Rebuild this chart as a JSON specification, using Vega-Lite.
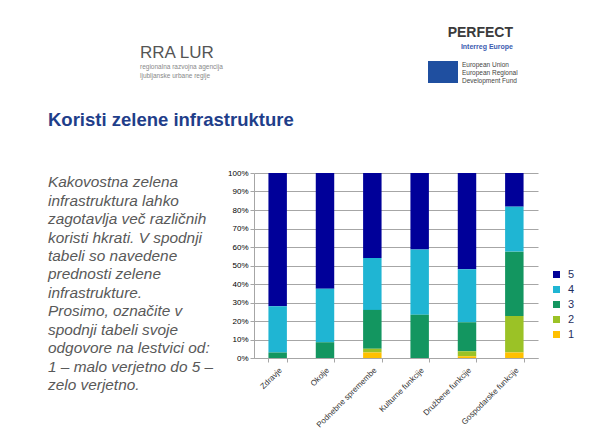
{
  "$schema": "https://vega.github.io/schema/vega-lite/v6.json",
  "background": "white",
  "padding": {"left": 48, "top": 26, "right": 0, "bottom": 0},
  "autosize": {"type": "pad"},
  "spacing": 25,
  "vconcat": [
    {
      "spacing": 12,
      "hconcat": [
        {
          "width": 80,
          "height": 1,
          "data": {"values": []},
          "mark": {"type": "point"},
          "encoding": {}
        },
        {
          "width": 276,
          "height": 1,
          "title": {
            "text": "RRA LUR",
            "subtitle": ["regionalna razvojna agencija", "ljubljanske urbane regije"],
            "orient": "bottom",
            "anchor": "start",
            "frame": "group",
            "offset": 0,
            "dy": -6,
            "font": "Liberation Sans",
            "fontSize": 17,
            "fontWeight": "normal",
            "color": "#555555",
            "subtitleFont": "Liberation Sans",
            "subtitleFontSize": 6.5,
            "subtitleColor": "#888888",
            "subtitlePadding": 2
          },
          "data": {"values": []},
          "mark": {"type": "point"},
          "encoding": {}
        },
        {
          "spacing": 10,
          "vconcat": [
            {
              "width": 85,
              "height": 1,
              "title": {
                "text": "PERFECT",
                "subtitle": "Interreg Europe",
                "anchor": "end",
                "frame": "group",
                "offset": 0,
                "font": "Liberation Sans",
                "fontSize": 14,
                "fontWeight": "bold",
                "color": "#3A3A3A",
                "subtitleFont": "Liberation Sans",
                "subtitleFontSize": 7,
                "subtitleFontWeight": "bold",
                "subtitleColor": "#3B5BB0",
                "subtitlePadding": 3
              },
              "data": {"values": []},
              "mark": {"type": "point"},
              "encoding": {}
            },
            {
              "spacing": 4,
              "hconcat": [
                {
                  "width": 30,
                  "height": 22,
                  "view": {"fill": "#1F4FA0", "stroke": null},
                  "data": {"values": []},
                  "mark": {"type": "point"},
                  "encoding": {}
                },
                {
                  "width": 55,
                  "height": 1,
                  "title": {
                    "text": "European Union",
                    "subtitle": ["European Regional", "Development Fund"],
                    "orient": "bottom",
                    "anchor": "start",
                    "frame": "group",
                    "offset": 0,
                    "font": "Liberation Sans",
                    "fontSize": 6.5,
                    "fontWeight": "normal",
                    "color": "#444444",
                    "subtitleFont": "Liberation Sans",
                    "subtitleFontSize": 6.5,
                    "subtitleColor": "#444444",
                    "subtitlePadding": 1
                  },
                  "data": {"values": []},
                  "mark": {"type": "point"},
                  "encoding": {}
                }
              ]
            }
          ]
        }
      ]
    },
    {
      "title": {
        "text": "Koristi zelene infrastrukture",
        "anchor": "start",
        "frame": "bounds",
        "font": "Liberation Sans",
        "fontSize": 18.5,
        "fontWeight": "bold",
        "color": "#1F3E8A",
        "offset": 40
      },
      "spacing": 4,
      "hconcat": [
        {
          "width": 175,
          "height": {"step": 18.45},
          "data": {
            "values": [
              {"line": 1, "text": "Kakovostna zelena"},
              {"line": 2, "text": "infrastruktura lahko"},
              {"line": 3, "text": "zagotavlja več različnih"},
              {"line": 4, "text": "koristi hkrati. V spodnji"},
              {"line": 5, "text": "tabeli so navedene"},
              {"line": 6, "text": "prednosti zelene"},
              {"line": 7, "text": "infrastrukture."},
              {"line": 8, "text": "Prosimo, označite v"},
              {"line": 9, "text": "spodnji tabeli svoje"},
              {"line": 10, "text": "odgovore na lestvici od:"},
              {"line": 11, "text": "1 – malo verjetno do 5 –"},
              {"line": 12, "text": "zelo verjetno."}
            ]
          },
          "mark": {
            "type": "text",
            "align": "left",
            "baseline": "middle",
            "font": "Liberation Sans",
            "fontSize": 15.4,
            "fontStyle": "italic",
            "color": "#595959"
          },
          "encoding": {
            "x": {"value": 0},
            "y": {"field": "line", "type": "ordinal", "axis": null},
            "text": {"field": "text"}
          }
        },
        {
          "width": 284,
          "height": 185,
          "data": {
            "values": [
              {"category": "Zdravje", "rating": "5", "value": 72},
              {"category": "Zdravje", "rating": "4", "value": 25},
              {"category": "Zdravje", "rating": "3", "value": 3},
              {"category": "Okolje", "rating": "5", "value": 62.5},
              {"category": "Okolje", "rating": "4", "value": 29},
              {"category": "Okolje", "rating": "3", "value": 8.5},
              {"category": "Podnebne spremembe", "rating": "5", "value": 46},
              {"category": "Podnebne spremembe", "rating": "4", "value": 28},
              {"category": "Podnebne spremembe", "rating": "3", "value": 21},
              {"category": "Podnebne spremembe", "rating": "2", "value": 2},
              {"category": "Podnebne spremembe", "rating": "1", "value": 3},
              {"category": "Kulturne funkcije", "rating": "5", "value": 41.3},
              {"category": "Kulturne funkcije", "rating": "4", "value": 35.3},
              {"category": "Kulturne funkcije", "rating": "3", "value": 23.4},
              {"category": "Družbene funkcije", "rating": "5", "value": 52},
              {"category": "Družbene funkcije", "rating": "4", "value": 28.7},
              {"category": "Družbene funkcije", "rating": "3", "value": 15.7},
              {"category": "Družbene funkcije", "rating": "2", "value": 2.6},
              {"category": "Družbene funkcije", "rating": "1", "value": 1},
              {"category": "Gospodarske funkcije", "rating": "5", "value": 18.2},
              {"category": "Gospodarske funkcije", "rating": "4", "value": 24.3},
              {"category": "Gospodarske funkcije", "rating": "3", "value": 34.8},
              {"category": "Gospodarske funkcije", "rating": "2", "value": 19.7},
              {"category": "Gospodarske funkcije", "rating": "1", "value": 3}
            ]
          },
          "mark": {"type": "bar"},
          "encoding": {
            "x": {
              "field": "category",
              "type": "nominal",
              "sort": null,
              "scale": {"paddingInner": 0.61, "paddingOuter": 0.305},
              "axis": {
                "title": null,
                "labelAngle": -45,
                "labelFont": "Liberation Sans",
                "labelFontSize": 8,
                "labelColor": "#333333",
                "tickBand": "extent",
                "tickColor": "#A6A6A6",
                "tickSize": 4,
                "domainColor": "#A6A6A6",
                "labelPadding": 4
              }
            },
            "y": {
              "field": "value",
              "type": "quantitative",
              "stack": "normalize",
              "scale": {"domain": [0, 1], "nice": false},
              "axis": {
                "title": null,
                "format": ".0%",
                "values": [0, 0.1, 0.2, 0.3, 0.4, 0.5, 0.6, 0.7, 0.8, 0.9, 1],
                "labelFont": "Liberation Sans",
                "labelFontSize": 8,
                "labelColor": "#000000",
                "grid": true,
                "gridColor": "#A6A6A6",
                "tickColor": "#A6A6A6",
                "tickSize": 4,
                "domainColor": "#A6A6A6",
                "labelPadding": 2
              }
            },
            "color": {
              "field": "rating",
              "type": "nominal",
              "scale": {
                "domain": ["5", "4", "3", "2", "1"],
                "range": ["#000099", "#1FB5D3", "#139660", "#9BC226", "#FFC000"]
              },
              "legend": {
                "title": null,
                "orient": "none",
                "legendX": 503,
                "legendY": 219,
                "padding": 0,
                "symbolType": "square",
                "symbolSize": 49,
                "symbolStrokeWidth": 0,
                "labelFont": "Liberation Sans",
                "labelFontSize": 11,
                "labelColor": "#1F2F5F",
                "rowPadding": 3,
                "labelOffset": 6
              }
            },
            "order": {"field": "rating", "sort": "ascending"}
          }
        }
      ]
    }
  ],
  "config": {
    "view": {"stroke": null}
  }
}
